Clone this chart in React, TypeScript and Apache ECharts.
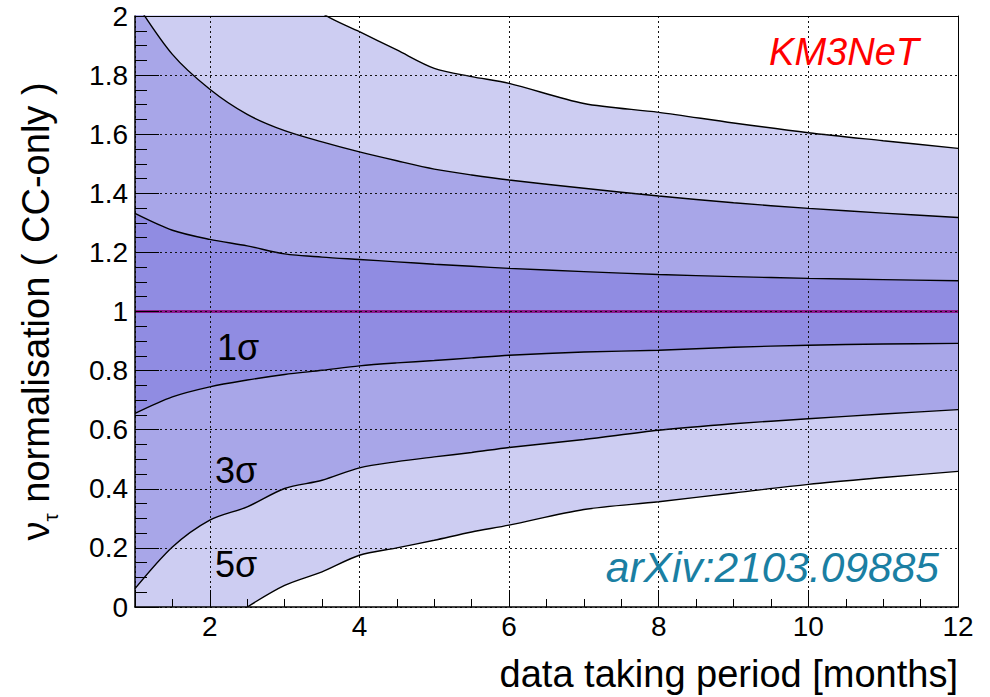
import React, { useEffect, useRef } from 'react';
import * as echarts from 'echarts';

// data taking period [months]
const months = [1, 1.5, 2, 2.5, 3, 3.5, 4, 4.5, 5, 5.5, 6, 7, 8, 9, 10, 11, 12];
// contour boundaries of the nu_tau normalisation (values above 2 lie outside the frame)
const upper5 = [2.8, 2.6, 2.42, 2.27, 2.13, 2.01, 1.947, 1.885, 1.823, 1.795, 1.772, 1.704, 1.674, 1.638, 1.605, 1.578, 1.552];
const upper3 = [2.05, 1.87, 1.752, 1.667, 1.612, 1.574, 1.54, 1.51, 1.482, 1.462, 1.445, 1.417, 1.391, 1.368, 1.349, 1.333, 1.318];
const upper1 = [1.332, 1.275, 1.244, 1.222, 1.195, 1.184, 1.176, 1.168, 1.16, 1.153, 1.146, 1.135, 1.125, 1.118, 1.112, 1.108, 1.104];
const lower1 = [0.655, 0.711, 0.745, 0.768, 0.787, 0.801, 0.816, 0.826, 0.834, 0.843, 0.852, 0.863, 0.869, 0.879, 0.886, 0.89, 0.892];
const lower3 = [0.062, 0.203, 0.294, 0.339, 0.401, 0.429, 0.471, 0.492, 0.508, 0.523, 0.54, 0.567, 0.598, 0.62, 0.637, 0.653, 0.668];
const lower5 = [null, null, null, 0, 0.073, 0.119, 0.175, 0.2, 0.226, 0.254, 0.277, 0.33, 0.356, 0.386, 0.415, 0.438, 0.459];
const nominal = [1, 1];
const nominalMonths = [1, 12];

const sigmaLabels = ['1σ', '3σ', '5σ'];

const FONT = '"Liberation Sans", Arial, Helvetica, sans-serif';
const LIGHT = '#cdcdf2';
const MEDIUM = '#a8a6e8';
const DARK = '#908ce2';

export default function App() {
  const ref = useRef<HTMLDivElement>(null);

  useEffect(() => {
    const chart = echarts.init(ref.current!, null, { renderer: 'svg' });
    const pairs = (vals: (number | null)[]) => months.map((m, i) => [m, vals[i]]);
    const band = (name: string, vals: (number | null)[], color: string) => ({
      type: 'line',
      name,
      data: pairs(vals),
      smooth: 0.3,
      showSymbol: false,
      symbol: 'none',
      connectNulls: false,
      silent: true,
      lineStyle: { color: '#000', width: 1.4 },
      areaStyle: { color, opacity: 1, origin: 'start' },
    });

    const gridLine = { show: true, lineStyle: { color: '#111', width: 1, type: [2, 3] } };

    chart.setOption({
      animation: false,
      backgroundColor: '#fff',
      grid: { left: 135, top: 16, width: 823, height: 591, containLabel: false, outerBoundsMode: 'none' },
      xAxis: [
        {
          type: 'value',
          min: 1,
          max: 12,
          splitNumber: 5,
          position: 'bottom',
          z: 5,
          axisLine: { show: true, onZero: false, lineStyle: { color: '#000', width: 1.5 } },
          axisTick: { show: true, inside: true, length: 17, lineStyle: { color: '#000', width: 1 } },
          minorTick: { show: true, splitNumber: 4, length: 8, lineStyle: { color: '#000', width: 1 } },
          axisLabel: { fontSize: 28, color: '#000', fontFamily: FONT, margin: 5, showMinLabel: false },
          splitLine: gridLine,
          name: 'data taking period [months]',
          nameLocation: 'end',
          nameGap: 0,
          nameMoveOverlap: false,
          nameTextStyle: {
            fontSize: 38,
            lineHeight: 38,
            fontFamily: FONT,
            color: '#000',
            align: 'right',
            verticalAlign: 'top',
            padding: [48, 0, 0, 0],
          },
        },
        {
          type: 'value',
          min: 1,
          max: 12,
          position: 'top',
          z: 5,
          axisLine: { show: true, onZero: false, lineStyle: { color: '#000', width: 1 } },
          axisTick: { show: false },
          axisLabel: { show: false },
          splitLine: { show: false },
        },
      ],
      yAxis: [
        {
          type: 'value',
          min: 0,
          max: 2,
          interval: 0.2,
          position: 'left',
          z: 5,
          axisLine: { show: true, onZero: false, lineStyle: { color: '#000', width: 1.5 } },
          axisTick: { show: true, inside: true, length: 24, lineStyle: { color: '#000', width: 1 } },
          minorTick: { show: true, splitNumber: 4, length: 12, lineStyle: { color: '#000', width: 1 } },
          axisLabel: { fontSize: 28, color: '#000', fontFamily: FONT, margin: 7 },
          splitLine: gridLine,
          name: '{nu|ν}{tau|τ}{rest| normalisation ( CC-only )}',
          nameLocation: 'middle',
          nameRotate: 90,
          nameGap: 74,
          nameMoveOverlap: false,
          nameTextStyle: {
            fontSize: 38,
            fontFamily: FONT,
            color: '#000',
            rich: {
              nu: { fontSize: 38, lineHeight: 44, fontFamily: FONT, color: '#000', verticalAlign: 'top', padding: [0, 0, 8, 0] },
              tau: { fontSize: 21, lineHeight: 21, fontFamily: FONT, color: '#000', verticalAlign: 'bottom' },
              rest: { fontSize: 38, lineHeight: 44, fontFamily: FONT, color: '#000', verticalAlign: 'top', padding: [0, 0, 8, 0] },
            },
          },
        },
        {
          type: 'value',
          min: 0,
          max: 2,
          position: 'right',
          z: 5,
          axisLine: { show: true, onZero: false, lineStyle: { color: '#000', width: 1 } },
          axisTick: { show: false },
          axisLabel: { show: false },
          splitLine: { show: false },
        },
      ],
      series: [
        band('upper 5σ', upper5, LIGHT),
        band('upper 3σ', upper3, MEDIUM),
        band('upper 1σ', upper1, DARK),
        band('lower 1σ', lower1, MEDIUM),
        band('lower 3σ', lower3, LIGHT),
        band('lower 5σ', lower5, '#ffffff'),
        {
          type: 'line',
          name: 'nominal',
          data: nominalMonths.map((m, i) => [m, nominal[i]]),
          showSymbol: false,
          symbol: 'none',
          silent: true,
          lineStyle: { color: '#8b1a8e', width: 3 },
        },
      ],
      graphic: [
        {
          type: 'text', z: 100, x: 919, y: 52,
          style: { text: 'KM3NeT', fontSize: 38, fontStyle: 'italic', fontFamily: FONT, fill: '#ff0000', textAlign: 'right', verticalAlign: 'middle' },
        },
        {
          type: 'text', z: 100, x: 939, y: 567,
          style: { text: 'arXiv:2103.09885', fontSize: 42.5, fontStyle: 'italic', fontFamily: FONT, fill: '#1a7fa3', textAlign: 'right', verticalAlign: 'middle' },
        },
        {
          type: 'text', z: 100, x: 217, y: 347,
          style: { text: sigmaLabels[0], fontSize: 36, fontFamily: FONT, fill: '#000', textAlign: 'left', verticalAlign: 'middle' },
        },
        {
          type: 'text', z: 100, x: 215, y: 470,
          style: { text: sigmaLabels[1], fontSize: 36, fontFamily: FONT, fill: '#000', textAlign: 'left', verticalAlign: 'middle' },
        },
        {
          type: 'text', z: 100, x: 215, y: 564,
          style: { text: sigmaLabels[2], fontSize: 36, fontFamily: FONT, fill: '#000', textAlign: 'left', verticalAlign: 'middle' },
        },
      ],
    });

    return () => chart.dispose();
  }, []);

  return <div ref={ref} style={{ position: 'fixed', left: 0, top: 0, width: 990, height: 697 }} />;
}
